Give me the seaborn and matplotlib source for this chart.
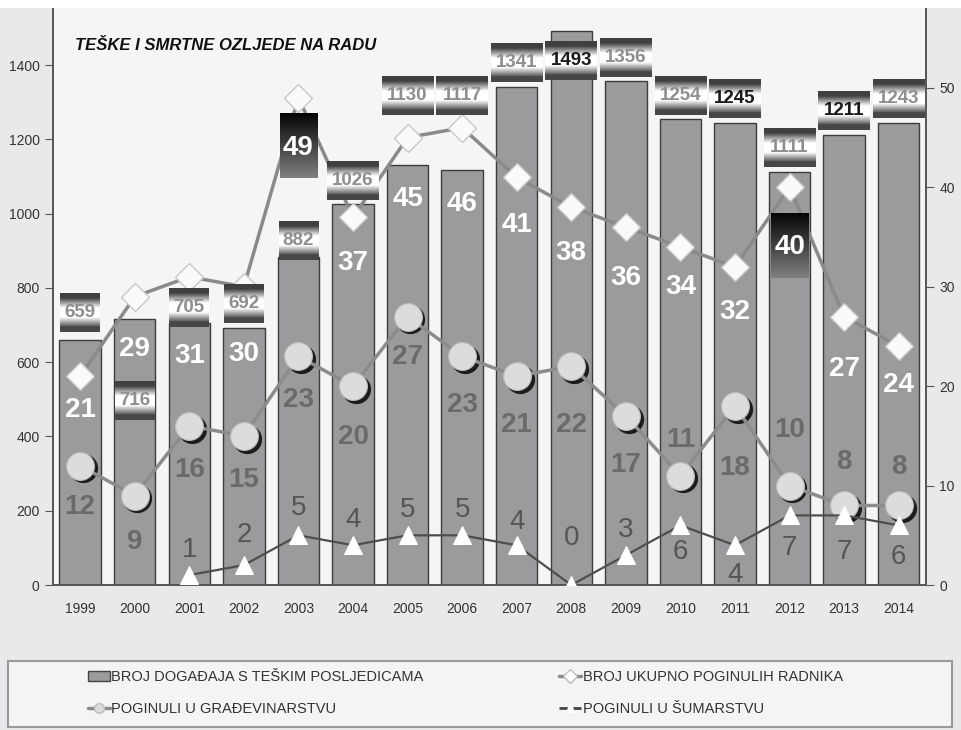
import numpy as np
import matplotlib
matplotlib.use('Agg')
import matplotlib.pyplot as plt
import matplotlib.transforms as mtransforms
from matplotlib.patches import Patch, Rectangle
from matplotlib.lines import Line2D
import seaborn as sns

# podaci
godine = [str(g) for g in range(1999, 2015)]
broj_dogadaja = [659, 716, 705, 692, 882, 1026, 1130, 1117, 1341, 1493, 1356, 1254, 1245, 1111, 1211, 1243]
ukupno_poginulih = [21, 29, 31, 30, 49, 37, 45, 46, 41, 38, 36, 34, 32, 40, 27, 24]
gradjevinarstvo = [12, 9, 16, 15, 23, 20, 27, 23, 21, 22, 17, 11, 18, 10, 8, 8]
sumarstvo = [np.nan, np.nan, 1, 2, 5, 4, 5, 5, 4, 0, 3, 6, 4, 7, 7, 6]

legenda = ['BROJ DOGAĐAJA S TEŠKIM POSLJEDICAMA', 'POGINULI U GRAĐEVINARSTVU',
           'BROJ UKUPNO POGINULIH RADNIKA', 'POGINULI U ŠUMARSTVU']
naslov = 'TEŠKE I SMRTNE OZLJEDE NA RADU'

# raspored oznaka (pomaci u jedinicama osi)
bar_dy = [76, -218, 43, 65, 47, 64, 189, 202, 67, -80, 65, 65, 66, 66, 68, 68]
bar_tamni = [9, 12, 14]
tot_dy = [-3.4, -5.3, -8.0, -6.8, -5.0, -4.6, -6.2, -7.7, -4.8, -4.6, -5.1, -4.0, -4.5, -6.0, -5.3, -3.9]
tot_kutija = [4, 13]
gra_dy = [-4.2, -4.7, -4.4, -4.4, -4.4, -5.1, -4.1, -4.9, -4.9, -5.9, -4.9, 3.6, -6.2, 5.6, 4.4, 3.9]
sum_dy = [0, 0, 2.5, 3.0, 2.7, 2.5, 2.5, 2.5, 2.3, 4.7, 2.5, -2.7, -3.0, -3.3, -3.7, -3.2]

sns.set_style('white')
plt.rcParams['font.family'] = ['Liberation Sans', 'DejaVu Sans']

L_TOP, R_TOP = 1553, 58
k = R_TOP / L_TOP

fig = plt.figure(figsize=(9.61, 7.30), dpi=100, facecolor='#e9e9eb')
fig.patches.append(Rectangle((0, 1 - 8 / 730), 1, 8 / 730, transform=fig.transFigure,
                             fc='white', ec='none', zorder=0))
ax = fig.add_axes([0.055, 0.1986, 0.9086, 0.790])
ax.set_facecolor('#f5f5f5')

sns.barplot(x=godine, y=broj_dogadaja, ax=ax, color='#9b9b9d', saturation=1,
            width=0.76, edgecolor='#3c3c3c', linewidth=1)

ax2 = ax.twinx()
xs = np.arange(len(godine))

sns.lineplot(x=xs, y=ukupno_poginulih, ax=ax2, color='#8a8a8a', lw=2.5, marker='D',
             markersize=14, markerfacecolor='#fafafa', markeredgecolor='#c8c8c8',
             markeredgewidth=1, legend=False, zorder=3)

sjena = mtransforms.offset_copy(ax2.transData, fig=fig, x=2, y=-2, units='points')
ax2.plot(xs, gradjevinarstvo, 'o', ms=20, color='#1c1c1c', transform=sjena, zorder=3.5)
sns.lineplot(x=xs, y=gradjevinarstvo, ax=ax2, color='#8c8c8c', lw=2.5, marker='o',
             markersize=20, markerfacecolor='#dcdcdc', markeredgecolor='#bdbdbd',
             markeredgewidth=0.8, legend=False, zorder=4)

sns.lineplot(x=xs, y=sumarstvo, ax=ax2, color='#4e4e4e', lw=1.6, marker='^',
             markersize=13, markerfacecolor='white', markeredgecolor='white',
             legend=False, zorder=5)

# oznake stupaca s gradijentnim okvirom
t = np.linspace(0, 1, 80)
g = np.ones_like(t)
g[t < 0.12] = 0.25
m = (t >= 0.12) & (t < 0.38)
g[m] = 0.25 + 0.75 * (t[m] - 0.12) / 0.26
m = (t > 0.62) & (t <= 0.86)
g[m] = 1 - 0.65 * (t[m] - 0.62) / 0.24
g[t > 0.86] = 0.28
grad = np.tile(g[:, None], (1, 4))

for i, v in enumerate(broj_dogadaja):
    yc = v + bar_dy[i]
    h = 105
    w = 0.22 * len(str(v)) + 0.07
    ax2.imshow(grad, extent=[i - w / 2, i + w / 2, (yc - h / 2) * k, (yc + h / 2) * k],
               cmap='gray', vmin=0, vmax=1, aspect='auto', zorder=6, interpolation='bilinear')
    boja = '#1a1a1a' if i in bar_tamni else '#8e8e8e'
    ax2.text(i, yc * k, str(v), ha='center', va='center', fontsize=13.5,
             fontweight='bold', color=boja, zorder=7)

# ukupno poginulih
crna = np.linspace(0.02, 0.5, 80)[:, None].repeat(4, axis=1)
for i, v in enumerate(ukupno_poginulih):
    yc = v + tot_dy[i]
    if i in tot_kutija:
        ax2.imshow(crna, extent=[i - 0.34, i + 0.34, yc - 3.1, yc + 3.4],
                   cmap='gray', vmin=0, vmax=1, aspect='auto', zorder=6, interpolation='bilinear')
    ax2.text(i, yc, str(v), ha='center', va='center', fontsize=20, fontweight='bold',
             color='white', zorder=7)

for i, v in enumerate(gradjevinarstvo):
    ax2.text(i, v + gra_dy[i], str(v), ha='center', va='center', fontsize=20,
             fontweight='bold', color='#6a6a6a', zorder=7)

for i, v in enumerate(sumarstvo):
    if np.isnan(v):
        continue
    ax2.text(i, v + sum_dy[i], str(int(v)), ha='center', va='center', fontsize=20,
             color='#555555', zorder=7)

# osi
ax.set_xlim(-0.5, len(godine) - 0.5)
ax.set_ylim(0, L_TOP)
ax2.set_ylim(0, R_TOP)
ax.set_yticks(range(0, 1401, 200))
ax2.set_yticks(range(0, 51, 10))
ax.set_xticks(xs)
ax.set_xticklabels(godine)
ax.set_xticks(np.arange(-0.5, len(godine), 1), minor=True)
ax.set_xlabel('')
ax.set_ylabel('')
ax.tick_params(axis='x', which='major', length=0, pad=12, labelsize=10, labelcolor='#333333')
ax.tick_params(axis='x', which='minor', length=7, color='#555555', width=1.2, direction='out')
ax.tick_params(axis='y', length=6, color='#555555', labelsize=10, labelcolor='#333333', direction='out')
ax2.tick_params(axis='y', length=6, color='#555555', labelsize=10, labelcolor='#333333', direction='out')
for a in (ax, ax2):
    a.spines['top'].set_visible(False)
    for s in ('left', 'right', 'bottom'):
        a.spines[s].set_color('#555555')
        a.spines[s].set_linewidth(1.2)

fig.text(75 / 961, 1 - 45 / 730, naslov, fontsize=12, fontweight='bold', fontstyle='italic',
         va='center', color='#111111')

# legenda
fig.patches.append(Rectangle((8 / 961, 3 / 730), 944 / 961, 66 / 730, transform=fig.transFigure,
                             fc='#f4f4f4', ec='#9a9a9a', lw=1.5, zorder=0))
rucke = [
    Patch(fc='#9b9b9d', ec='#444444'),
    Line2D([], [], color='#8c8c8c', lw=2.5, marker='o', ms=7, mfc='#dcdcdc', mec='#bdbdbd'),
    Line2D([], [], color='#8a8a8a', lw=2.5, marker='D', ms=7, mfc='white', mec='#bbbbbb'),
    Line2D([], [], color='#444444', lw=2, ls=(0, (3, 2)), marker='^', ms=6, mfc='white', mec='white'),
]
fig.legend(rucke, legenda, loc='upper left', bbox_to_anchor=(75 / 961, 1 - 657 / 730), ncol=2,
           frameon=False, fontsize=10.5, handlelength=1.5, handletextpad=0.1,
           columnspacing=9.3, labelspacing=1.2, labelcolor='#333333')

fig.savefig('out.png', dpi=100, facecolor=fig.get_facecolor())
